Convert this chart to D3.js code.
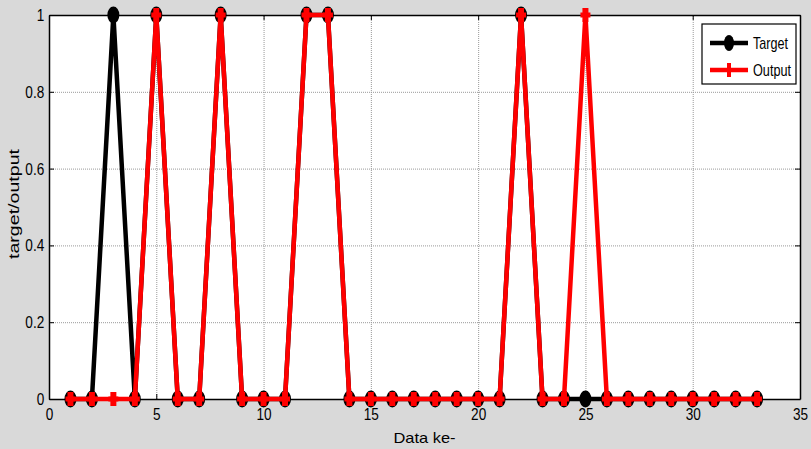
<!DOCTYPE html>
<html lang="en">
<head>
<meta charset="UTF-8">
<title>target/output</title>
<script src="https://cdn.jsdelivr.net/npm/d3@7"></script>
<style>
  body { margin: 0; background: #d9d9d9; }
  svg { display: block; font-family: "Liberation Sans", Arial, sans-serif; }
</style>
</head>
<body>
<svg width="811" height="449"></svg>
<script>
// data
const dataIdx = d3.range(1, 34);
const target = [0,0,1,0,1,0,0,1,0,0,0,1,1,0,0,0,0,0,0,0,0,1,0,0,0,0,0,0,0,0,0,0,0];
const output = [0,0,0,0,1,0,0,1,0,0,0,1,1,0,0,0,0,0,0,0,0,1,0,0,1,0,0,0,0,0,0,0,0];
const xTicks = [0, 5, 10, 15, 20, 25, 30, 35];
const yTicks = [0, 0.2, 0.4, 0.6, 0.8, 1];

const margin = { left: 49, right: 11, top: 15, bottom: 50 };
const svg = d3.select('svg');
const width = +svg.attr('width');
const height = +svg.attr('height');
const innerWidth = width - margin.left - margin.right;
const innerHeight = height - margin.top - margin.bottom;

const x = d3.scaleLinear().domain([0, 35]).range([0, innerWidth]);
const y = d3.scaleLinear().domain([0, 1]).range([innerHeight, 0]);

const g = svg.append('g').attr('transform', 'translate(' + margin.left + ',' + margin.top + ')');

// plot background
g.append('rect').attr('width', innerWidth).attr('height', innerHeight).attr('fill', '#fff');

// grid
g.append('g')
  .attr('transform', 'translate(0,' + innerHeight + ')')
  .call(d3.axisBottom(x).tickValues(xTicks.slice(1, -1)).tickSize(-innerHeight).tickFormat(''))
  .call(s => s.select('.domain').remove())
  .call(s => s.selectAll('text').remove())
  .selectAll('line').attr('stroke', '#999').attr('stroke-dasharray', '1,1');
g.append('g')
  .call(d3.axisLeft(y).tickValues(yTicks.slice(1, -1)).tickSize(-innerWidth).tickFormat(''))
  .call(s => s.select('.domain').remove())
  .call(s => s.selectAll('text').remove())
  .selectAll('line').attr('stroke', '#999').attr('stroke-dasharray', '1,1');

// axes (ticks pointing inward, box on)
const xAxis = g.append('g')
  .attr('transform', 'translate(0,' + innerHeight + ')')
  .call(d3.axisBottom(x).tickValues(xTicks).tickSize(-5).tickSizeOuter(0).tickPadding(9));
const yAxis = g.append('g')
  .call(d3.axisLeft(y).tickValues(yTicks).tickSize(-5).tickSizeOuter(0).tickPadding(6).tickFormat(d3.format('')));
g.append('g')
  .call(d3.axisTop(x).tickValues(xTicks).tickSize(-5).tickSizeOuter(0).tickFormat(''))
  .call(s => s.selectAll('text').remove());
g.append('g')
  .attr('transform', 'translate(' + innerWidth + ',0)')
  .call(d3.axisRight(y).tickValues(yTicks).tickSize(-5).tickSizeOuter(0).tickFormat(''))
  .call(s => s.selectAll('text').remove());

g.selectAll('.domain').attr('stroke', '#000').attr('stroke-width', 1.5);
g.selectAll('.tick text')
  .attr('font-size', 17)
  .attr('fill', '#000')
  .attr('font-family', '"Liberation Sans", Arial, sans-serif');
xAxis.selectAll('.tick text').attr('transform', 'scale(0.8,1)');
yAxis.selectAll('.tick text').attr('transform', 'scale(0.8,1)');

// series
const line = d3.line().x((d, i) => x(dataIdx[i])).y(d => y(d));

g.append('path').datum(target)
  .attr('fill', 'none').attr('stroke', '#000').attr('stroke-width', 4.5)
  .attr('d', line);
g.selectAll('.tmark').data(target).enter().append('ellipse')
  .attr('cx', (d, i) => x(dataIdx[i]))
  .attr('cy', d => y(d))
  .attr('rx', 6).attr('ry', 8.5)
  .attr('fill', '#000');

g.append('path').datum(output)
  .attr('fill', 'none').attr('stroke', '#ff0000').attr('stroke-width', 4.5)
  .attr('d', line);
const plus = g.selectAll('.omark').data(output).enter().append('g')
  .attr('transform', (d, i) => 'translate(' + x(dataIdx[i]) + ',' + y(d) + ')');
plus.append('line').attr('x1', 0).attr('x2', 0).attr('y1', -7).attr('y2', 7)
  .attr('stroke', '#ff0000').attr('stroke-width', 6);
plus.append('line').attr('x1', -5).attr('x2', 5).attr('y1', 0).attr('y2', 0)
  .attr('stroke', '#ff0000').attr('stroke-width', 5);

// labels
svg.append('text')
  .attr('x', margin.left + x(17.5))
  .attr('y', 443)
  .attr('text-anchor', 'middle')
  .attr('font-size', 15)
  .attr('textLength', 62)
  .attr('lengthAdjust', 'spacingAndGlyphs')
  .text('Data ke-');
svg.append('text')
  .attr('transform', 'translate(19,204) rotate(-90)')
  .attr('text-anchor', 'middle')
  .attr('font-size', 15)
  .attr('textLength', 110)
  .attr('lengthAdjust', 'spacingAndGlyphs')
  .text('target/output');

// legend
const legend = svg.append('g').attr('transform', 'translate(702,24)');
legend.append('rect').attr('width', 94).attr('height', 60)
  .attr('fill', '#fff').attr('stroke', '#000').attr('stroke-width', 1.2);
const items = [
  { name: 'Target', color: '#000', marker: 'circle' },
  { name: 'Output', color: '#ff0000', marker: 'plus' }
];
items.forEach((it, i) => {
  const yy = 19 + i * 27;
  legend.append('line').attr('x1', 8).attr('x2', 46).attr('y1', yy).attr('y2', yy)
    .attr('stroke', it.color).attr('stroke-width', 4.5);
  if (it.marker === 'circle') {
    legend.append('ellipse').attr('cx', 27).attr('cy', yy).attr('rx', 5).attr('ry', 8).attr('fill', it.color);
  } else {
    legend.append('line').attr('x1', 27).attr('x2', 27).attr('y1', yy - 7).attr('y2', yy + 7)
      .attr('stroke', it.color).attr('stroke-width', 4);
  }
  legend.append('text')
    .attr('x', 51)
    .attr('y', yy + 6)
    .attr('font-size', 17)
    .attr('textLength', i === 0 ? 35 : 38)
    .attr('lengthAdjust', 'spacingAndGlyphs')
    .text(it.name);
});
</script>
</body>
</html>
